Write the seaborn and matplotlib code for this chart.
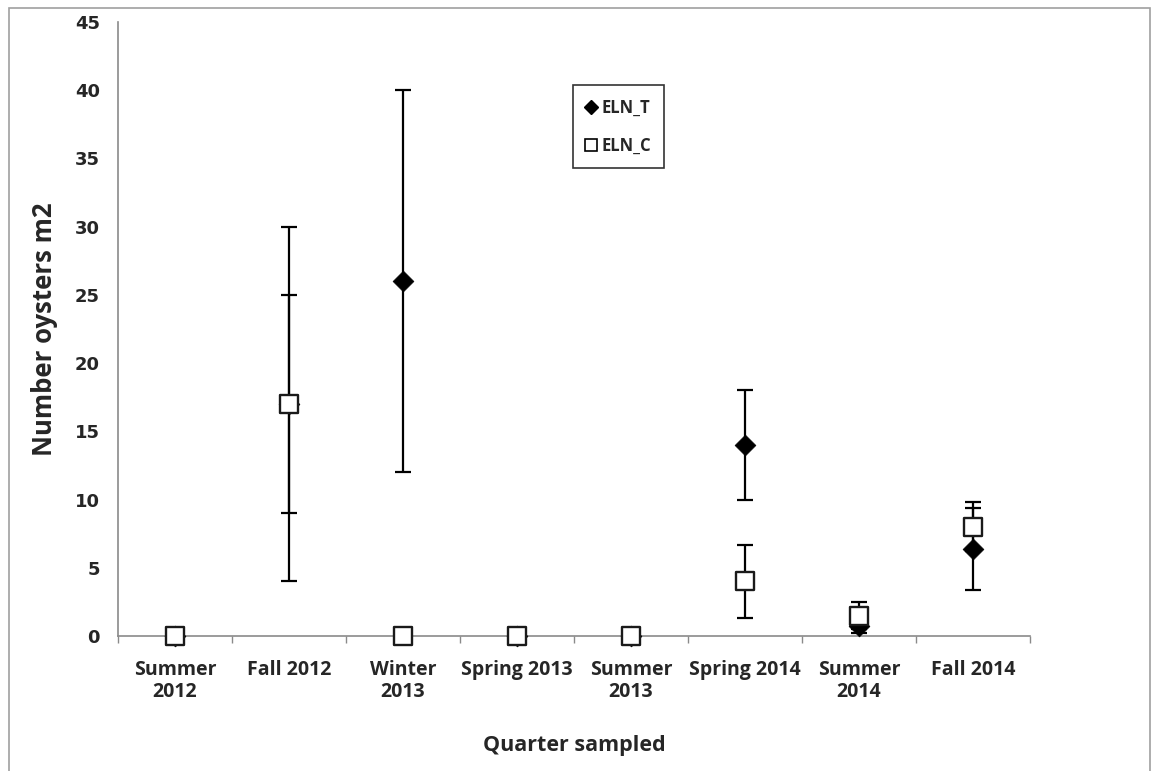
import matplotlib
matplotlib.use("Agg")
import matplotlib.pyplot as plt
from matplotlib.lines import Line2D
from matplotlib.patches import Rectangle
import numpy as np
import pandas as pd
import seaborn as sns

categories = ["Summer\n2012", "Fall 2012", "Winter\n2013", "Spring 2013",
              "Summer\n2013", "Spring 2014", "Summer\n2014", "Fall 2014"]
eln_t_mean = [0, 17, 26, 0, 0, 14, 0.7, 6.4]
eln_t_err = [0, 8, 14, 0, 0, 4, 0.5, 3.0]
eln_c_mean = [0, 17, 0, 0, 0, 4, 1.5, 8]
eln_c_err = [0, 13, 0, 0, 0, 2.7, 1.0, 1.8]
y_ticks = [0, 5, 10, 15, 20, 25, 30, 35, 40, 45]

sns.set_style("white")
plt.rcParams['font.family'] = ['Open Sans', 'DejaVu Sans']

fig = plt.figure(figsize=(11.6, 7.71), dpi=100)
ax = fig.add_axes([118/1160, 135/771, 912/1160, 614/771])

df_t = pd.DataFrame({"quarter": categories, "value": eln_t_mean, "err": eln_t_err})
df_c = pd.DataFrame({"quarter": categories, "value": eln_c_mean, "err": eln_c_err})
pos = np.arange(len(categories))

# ELN_T
ax.errorbar(pos, df_t["value"], yerr=df_t["err"], fmt='none', ecolor='black',
            elinewidth=1.6, capsize=5.5, capthick=1.6, zorder=2)
sns.scatterplot(data=df_t, x="quarter", y="value", marker='D', s=112,
                color='black', edgecolor='black', linewidth=0.5, ax=ax,
                zorder=3, clip_on=False)
# ELN_C
ax.errorbar(pos, df_c["value"], yerr=df_c["err"], fmt='none', ecolor='black',
            elinewidth=1.6, capsize=5.5, capthick=1.6, zorder=4)
sns.scatterplot(data=df_c, x="quarter", y="value", marker='s', s=175,
                color='white', edgecolor='#1a1a1a', linewidth=1.7, ax=ax,
                zorder=5, clip_on=False)

ax.set_xlim(-0.5, len(categories) - 0.5)
ax.set_ylim(0, 45)
ax.set_yticks(y_ticks)
ax.set_yticklabels([str(v) for v in y_ticks], family='DejaVu Sans',
                   fontweight='bold', fontsize=13)
ax.set_xticks(pos)
ax.set_xticklabels(categories, fontweight='bold', fontsize=14, linespacing=1.15)
ax.set_xticks(np.arange(-0.5, len(categories)), minor=True)
ax.tick_params(axis='x', which='major', length=0, pad=17)
ax.tick_params(axis='x', which='minor', length=5, width=1, color='#8a8a8a', direction='out')
ax.tick_params(axis='y', length=5, width=1, color='#8a8a8a', direction='out', pad=8)
ax.tick_params(axis='x', which='minor', bottom=True)

for side in ['top', 'right']:
    ax.spines[side].set_visible(False)
for side in ['left', 'bottom']:
    ax.spines[side].set_color('#8a8a8a')
    ax.spines[side].set_linewidth(1.2)

ax.set_xlabel("Quarter sampled", fontweight='bold', fontsize=15.5, labelpad=24)
ax.set_ylabel("Number oysters m2", fontweight='bold', fontsize=18.5, labelpad=12)

handles = [Line2D([], [], marker='D', linestyle='none', color='black', markersize=7),
           Line2D([], [], marker='s', linestyle='none', markerfacecolor='white',
                  markeredgecolor='black', markeredgewidth=1.2, markersize=9)]
leg = ax.legend(handles, ["ELN_T", "ELN_C"], loc='upper left',
                bbox_to_anchor=(0.499, 0.897), borderaxespad=0, frameon=True,
                fancybox=False, edgecolor='black', handlelength=0.6,
                handletextpad=0.3, labelspacing=1.2, borderpad=0.8,
                prop={'weight': 'bold', 'size': 12})
leg.get_frame().set_linewidth(1.2)

fig.patches.append(Rectangle((9/1160, -0.02), (1150-9)/1160, (771-8)/771 + 0.02,
                             transform=fig.transFigure, fill=False,
                             edgecolor='#a0a0a0', linewidth=1.2))

fig.savefig("out.png", dpi=100)
